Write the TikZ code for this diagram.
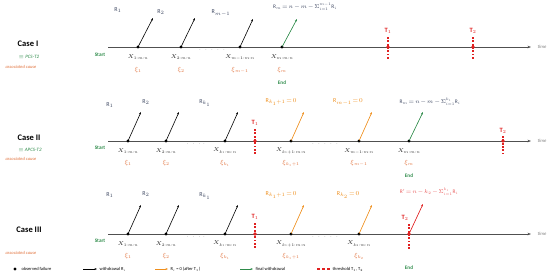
\RequirePackage{fix-cm}
\documentclass[tikz,border=0pt]{standalone}
\usepackage{fontspec}
\setmainfont{Carlito}
\usetikzlibrary{arrows.meta}
\definecolor{cgreen}{HTML}{2E8B4A}
\definecolor{corange}{HTML}{EE8E1C}
\definecolor{cred}{HTML}{E02020}
\definecolor{cxi}{HTML}{E0703A}
\definecolor{cR}{HTML}{3C4660}
\definecolor{caxis}{HTML}{505050}
\newcommand{\tightmath}{\thickmuskip=2mu\medmuskip=1.5mu}
% vertical red threshold: x, top y, number of dashes
\newcommand{\thrline}[3]{\foreach \k in {1,...,#3}{\fill[cred] ({#1-0.6},{#2+3.3*(\k-1)}) rectangle ++(1.2,1.9);}}
\begin{document}
\begin{tikzpicture}[x=1pt,y=-1pt,
  axisline/.style={draw=caxis,line width=0.8pt,-{Stealth[length=3.5pt,width=2.6pt]}},
  fail/.style={circle,fill=black,inner sep=0pt,minimum size=3.4pt},
  tfail/.style={circle,fill=cred,inner sep=0pt,minimum size=3.6pt},
  wd/.style={draw=black,line width=0.6pt,-{Stealth[length=2.6pt,width=2pt]},shorten <=-1.2pt},
  owd/.style={wd,draw=corange,fill=corange},
  gwd/.style={wd,draw=cgreen,fill=cgreen},
  rwd/.style={wd,draw=cred,fill=cred},
  caselbl/.style={font=\fontsize{8.5}{9}\selectfont\bfseries},
  eqv/.style={font=\fontsize{5}{6}\selectfont\itshape,text=cgreen},
  assoc/.style={font=\fontsize{4.5}{5}\selectfont\itshape,text=cxi},
  startl/.style={font=\fontsize{5.2}{6}\selectfont\bfseries,text=cgreen},
  xlbl/.style={font=\fontsize{5.6}{6}\selectfont,inner sep=0.5pt,text=black!85},
  xil/.style={font=\fontsize{6.2}{7}\selectfont,text=cxi,inner sep=0.5pt},
  rl/.style={font=\fontsize{6}{7}\selectfont\tightmath,text=cR,inner sep=0.5pt},
  eql/.style={font=\fontsize{5.4}{6}\selectfont\tightmath,text=cR,inner sep=0.5pt},
  rol/.style={rl,text=corange},
  tl/.style={font=\fontsize{6.5}{7}\selectfont\bfseries,text=cred,inner sep=0.5pt},
  timel/.style={font=\fontsize{4.8}{5}\selectfont\itshape,text=gray,inner sep=0.5pt},
  dotsl/.style={font=\fontsize{5}{6}\selectfont,text=caxis,inner sep=0pt},
  legl/.style={font=\fontsize{4.5}{5}\selectfont,anchor=west,inner sep=0.5pt}]
\useasboundingbox (0,0) rectangle (550,276);

% ================= Case I =================
\node[caselbl] (c1) at (28,44) {Case I};
\node[eqv] (c1e) at (29,57) {$\equiv$ PCS-T2};
\node[assoc] (c1a) at (21,67) {associated cause};
\node[startl] (s1) at (100,55) {Start};
\coordinate (a1s) at (108,47);
\coordinate (a1e) at (531,47);
\draw[axisline] (a1s) -- (a1e);
\node[timel] (t1) at (542,47) {time};
\node[fail] (p11) at (138,47) {};
\node[fail] (p12) at (181,47) {};
\node[fail] (p13) at (240,47) {};
\node[fail] (p14) at (282,47) {};
\node[dotsl] (d11) at (212,50) {$\cdot\;\cdot\;\cdot\;\cdot\;\cdot$};
\coordinate (q11) at (153,18);
\coordinate (q12) at (195,18);
\coordinate (q13) at (253,19);
\coordinate (q14) at (297,19);
\draw[wd] (p11) -- (q11);
\draw[wd] (p12) -- (q12);
\draw[wd] (p13) -- (q13);
\draw[gwd] (p14) -- (q14);
\node[rl] (r11) at (118,10) {$\mathrm{R}_1$};
\node[rl] (r12) at (161,12) {$\mathrm{R}_2$};
\node[rl] (r13) at (221,13) {$\mathrm{R}_{m-1}$};
\node[eql] (r14) at (305,7) {$\mathrm{R}_m = n - m - \Sigma_{i=1}^{m-1}\mathrm{R}_i$};
\node[xlbl] (x11) at (138,57) {$X_{1:m:n}$};
\node[xlbl] (x12) at (181,57) {$X_{2:m:n}$};
\node[xlbl] (x13) at (240,57) {$X_{m-1:m:n}$};
\node[xlbl] (x14) at (282,57) {$X_{m:m:n}$};
\node[xil] (z11) at (138,70) {$\xi_1$};
\node[xil] (z12) at (181,70) {$\xi_2$};
\node[xil] (z13) at (240,70) {$\xi_{m-1}$};
\node[xil] (z14) at (282,70) {$\xi_m$};
\node[startl] (e1) at (282,83) {End};
\thrline{388}{37}{7}
\thrline{473}{37}{7}
\node[tfail] (T11) at (388,47) {};
\node[tfail] (T12) at (473,47) {};
\node[tl] (T11l) at (388,31) {T$_1$};
\node[tl] (T12l) at (473,31) {T$_2$};

% ================= Case II =================
\node[caselbl] (c2) at (29,138) {Case II};
\node[eqv] (c2e) at (30,150) {$\equiv$ APCS-T2};
\node[assoc] (c2a) at (21,159) {associated cause};
\node[startl] (s2) at (100,148) {Start};
\coordinate (a2s) at (108,141);
\coordinate (a2e) at (531,141);
\draw[axisline] (a2s) -- (a2e);
\node[timel] (t2) at (542,141) {time};
\node[fail] (p21) at (128,141) {};
\node[fail] (p22) at (166,141) {};
\node[fail] (p23) at (225,141) {};
\node[fail] (p24) at (291,141) {};
\node[fail] (p25) at (359,141) {};
\node[fail] (p26) at (409,141) {};
\node[dotsl] (d21) at (196,144) {$\cdot\;\cdot\;\cdot\;\cdot$};
\node[dotsl] (d22) at (325,144) {$\cdot\;\cdot\;\cdot\;\cdot\;\cdot$};
\coordinate (q21) at (141,112);
\coordinate (q22) at (179,112);
\coordinate (q23) at (238,112);
\coordinate (q24) at (304,112);
\coordinate (q25) at (372,112);
\coordinate (q26) at (423,112);
\draw[wd] (p21) -- (q21);
\draw[wd] (p22) -- (q22);
\draw[wd] (p23) -- (q23);
\draw[owd] (p24) -- (q24);
\draw[owd] (p25) -- (q25);
\draw[gwd] (p26) -- (q26);
\node[rl] (r21) at (110,105) {$\mathrm{R}_1$};
\node[rl] (r22) at (146,102) {$\mathrm{R}_2$};
\node[rl] (r23) at (205,103) {$\mathrm{R}_{k_1}$};
\node[rol] (r24) at (281,102) {$\mathrm{R}_{k_1+1} = 0$};
\node[rol] (r25) at (348,102) {$\mathrm{R}_{m-1} = 0$};
\node[eql] (r26) at (430,102) {$\mathrm{R}_m = n - m - \Sigma_{i=1}^{k_1}\mathrm{R}_i$};
\node[xlbl] (x21) at (128,151) {$X_{1:m:n}$};
\node[xlbl] (x22) at (166,151) {$X_{2:m:n}$};
\node[xlbl] (x23) at (225,151) {$X_{k_1:m:n}$};
\node[xlbl] (x24) at (291,151) {$X_{k_1+1:m:n}$};
\node[xlbl] (x25) at (359,151) {$X_{m-1:m:n}$};
\node[xlbl] (x26) at (409,151) {$X_{m:m:n}$};
\node[xil] (z21) at (128,163) {$\xi_1$};
\node[xil] (z22) at (166,163) {$\xi_2$};
\node[xil] (z23) at (225,163) {$\xi_{k_1}$};
\node[xil] (z24) at (291,163) {$\xi_{k_1+1}$};
\node[xil] (z25) at (359,163) {$\xi_{m-1}$};
\node[xil] (z26) at (409,163) {$\xi_m$};
\node[startl] (e2) at (409,176) {End};
\thrline{255}{129}{8}
\thrline{503}{136}{6}
\node[tfail] (T21) at (255,141) {};
\node[tfail] (T22) at (503,141) {};
\node[tl] (T21l) at (255,123) {T$_1$};
\node[tl] (T22l) at (503,131) {T$_2$};

% ================= Case III =================
\node[caselbl] (c3) at (29,230) {Case III};
\node[assoc] (c3a) at (21,253) {associated cause};
\node[startl] (s3) at (100,241) {Start};
\coordinate (a3s) at (108,234);
\coordinate (a3e) at (531,234);
\draw[axisline] (a3s) -- (a3e);
\node[timel] (t3) at (542,234) {time};
\node[fail] (p31) at (128,234) {};
\node[fail] (p32) at (166,234) {};
\node[fail] (p33) at (225,234) {};
\node[fail] (p34) at (291,234) {};
\node[fail] (p35) at (359,234) {};
\node[dotsl] (d31) at (196,237) {$\cdot\;\cdot\;\cdot\;\cdot$};
\node[dotsl] (d32) at (325,237) {$\cdot\;\cdot\;\cdot\;\cdot\;\cdot$};
\coordinate (q31) at (141,205);
\coordinate (q32) at (179,205);
\coordinate (q33) at (238,205);
\coordinate (q34) at (304,205);
\coordinate (q35) at (372,205);
\coordinate (q36) at (423,204);
\draw[wd] (p31) -- (q31);
\draw[wd] (p32) -- (q32);
\draw[wd] (p33) -- (q33);
\draw[owd] (p34) -- (q34);
\draw[owd] (p35) -- (q35);
\node[rl] (r31) at (110,195) {$\mathrm{R}_1$};
\node[rl] (r32) at (146,194) {$\mathrm{R}_2$};
\node[rl] (r33) at (205,196) {$\mathrm{R}_{k_1}$};
\node[rol] (r34) at (281,195) {$\mathrm{R}_{k_1+1} = 0$};
\node[rol] (r35) at (348,195) {$\mathrm{R}_{k_2} = 0$};
\node[eql,text=cred!75] (r36) at (429,192) {$\mathrm{R}' = n - k_2 - \Sigma_{i=1}^{k_1}\mathrm{R}_i$};
\node[xlbl] (x31) at (128,244) {$X_{1:m:n}$};
\node[xlbl] (x32) at (166,244) {$X_{2:m:n}$};
\node[xlbl] (x33) at (225,244) {$X_{k_1:m:n}$};
\node[xlbl] (x34) at (291,244) {$X_{k_1+1:m:n}$};
\node[xlbl] (x35) at (359,244) {$X_{k_2:m:n}$};
\node[xil] (z31) at (128,256) {$\xi_1$};
\node[xil] (z32) at (166,256) {$\xi_2$};
\node[xil] (z33) at (225,256) {$\xi_{k_1}$};
\node[xil] (z34) at (291,256) {$\xi_{k_1+1}$};
\node[xil] (z35) at (359,256) {$\xi_{k_2}$};
\node[startl] (e3) at (409,268) {End};
\thrline{255}{223}{8}
\thrline{409}{224}{8}
\node[tfail] (T31) at (255,234) {};
\node[tfail] (T32) at (409,234) {};
\draw[rwd] (T32) -- (q36);
\node[tl] (T31l) at (255,217) {T$_1$};
\node[tl] (T32l) at (405,218) {T$_2$};

% ================= Legend =================
\node[fail] (lg1) at (15,269) {};
\node[legl] (lg1t) at (21,269) {observed failure};
\coordinate (lg2a) at (83,269);
\coordinate (lg2b) at (97,269);
\draw[wd,shorten <=0pt] (lg2a) -- (lg2b);
\node[legl] (lg2t) at (99,269) {withdrawal R$_i$};
\coordinate (lg3a) at (155,269);
\coordinate (lg3b) at (168,269);
\draw[owd,shorten <=0pt] (lg3a) -- (lg3b);
\node[legl] (lg3t) at (170,269) {R$_i$ = 0 (after T$_1$)};
\coordinate (lg4a) at (240,269);
\coordinate (lg4b) at (253,269);
\draw[gwd,shorten <=0pt] (lg4a) -- (lg4b);
\node[legl] (lg4t) at (255,269) {final withdrawal};
\foreach \k in {0,1,2}{\fill[cred] ({317+5*\k},268.4) rectangle ++(3,1.3);}
\node[legl] (lg5t) at (332,269) {threshold T$_1$, T$_2$};
\end{tikzpicture}
\end{document}
